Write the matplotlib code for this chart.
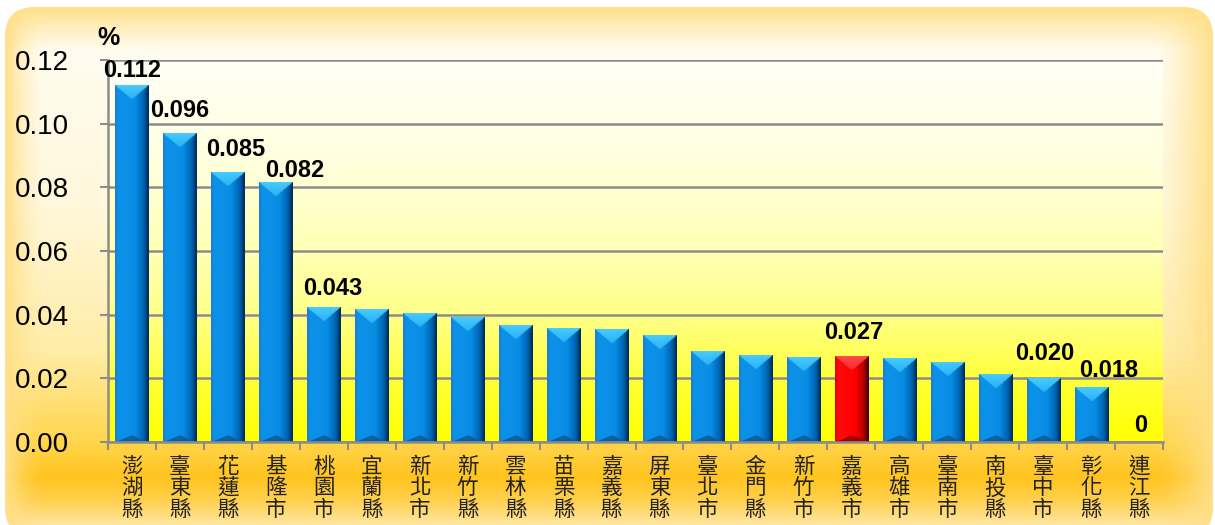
import matplotlib
matplotlib.use("Agg")
import matplotlib.pyplot as plt
import numpy as np
from matplotlib.patches import FancyBboxPatch
from matplotlib.ticker import FixedLocator

# data
counties = ["澎湖縣", "臺東縣", "花蓮縣", "基隆市", "桃園市", "宜蘭縣", "新北市", "新竹縣",
            "雲林縣", "苗栗縣", "嘉義縣", "屏東縣", "臺北市", "金門縣", "新竹市", "嘉義市",
            "高雄市", "臺南市", "南投縣", "臺中市", "彰化縣", "連江縣"]
rates = [0.112, 0.0968, 0.0848, 0.0815, 0.0423, 0.0416, 0.0404, 0.0392,
         0.0367, 0.0358, 0.0353, 0.0334, 0.0284, 0.0272, 0.0267, 0.0270,
         0.0261, 0.0251, 0.0212, 0.0201, 0.0171, 0.0]
shown = ["0.112", "0.096", "0.085", "0.082", "0.043", "", "", "",
         "", "", "", "", "", "", "", "0.027",
         "", "", "", "0.020", "0.018", "0"]
highlight = "嘉義市"
yticks = [0.00, 0.02, 0.04, 0.06, 0.08, 0.10, 0.12]
ymax = 0.12

W, H = 1215, 525
fig = plt.figure(figsize=(W / 100, H / 100), dpi=100)
fig.patch.set_facecolor("white")


def hexrgb(h):
    return np.array([int(h[i:i + 2], 16) for i in (1, 3, 5)]) / 255.0


def vgrad(pos, cols, n):
    t = np.linspace(0, 1, n)
    c = np.array([hexrgb(k) for k in cols])
    return np.stack([np.interp(t, pos, c[:, i]) for i in range(3)], axis=-1)


# chart area background: rounded frame with a soft orange glow
bg = fig.add_axes([0, 0, 1, 1], zorder=0)
bg.set_xlim(0, W)
bg.set_ylim(H, 0)
bg.axis("off")
ypos = np.array([0, 8, 28, 50, 200, 350, 440, 478, 500, 525]) / H
ycol = ["#FFE08A", "#FFE08A", "#FFEFC0", "#FFFCF0", "#FFF8DC", "#FFEDA8",
        "#FFD650", "#FFC41E", "#FFD04C", "#FFE6A0"]
col = vgrad(ypos, ycol, H)[:, None, :] * np.ones((1, W, 1))
xs = np.arange(W)
dl = np.clip(1 - (xs - 5) / 40.0, 0, 1) ** 1.6
dr = np.clip(1 - (1213 - xs) / 60.0, 0, 1) ** 1.4
glow = np.maximum(dl, dr)[None, :, None]
col = col * (1 - glow) + hexrgb("#FFDF88") * glow
img = bg.imshow(col, extent=(0, W, H, 0), aspect="auto", interpolation="bilinear")
frame = FancyBboxPatch((5, 7), 1208, 530, boxstyle="round,pad=0,rounding_size=30",
                       transform=bg.transData, facecolor="none", edgecolor="none")
bg.add_patch(frame)
img.set_clip_path(frame)

# plot area
ax = fig.add_axes([108 / W, 1 - 442 / H, (1163 - 108) / W, 382 / H], zorder=1)
n = len(counties)
x = np.arange(n)
ax.set_xlim(-0.5, n - 0.5)
ax.set_ylim(0, ymax)

pa = vgrad([0, 0.25, 0.5, 0.67, 0.84, 1.0],
           ["#FFFFF6", "#FFFFE0", "#FFFFB4", "#FFFF88", "#FFFF38", "#FFFF00"], 400)
ax.imshow(pa[:, None, :] * np.ones((1, 10, 1)), extent=(-0.5, n - 0.5, 0, ymax),
          aspect="auto", zorder=0, interpolation="bilinear")

ax.set_yticks(yticks)
ax.set_yticklabels([f"{v:.2f}" for v in yticks], fontsize=20, family="Liberation Sans")
ax.grid(axis="y", color="#8C8C8C", linewidth=1.8, zorder=1)
ax.set_axisbelow(True)
for s in ["top", "right"]:
    ax.spines[s].set_visible(False)
for s in ["left", "bottom"]:
    ax.spines[s].set_color("#8C8C8C")
    ax.spines[s].set_linewidth(1.8)
    ax.spines[s].set_zorder(5)
ax.tick_params(axis="y", length=6, width=1.5, color="#8C8C8C", pad=22)

ax.set_xticks(x)
ax.set_xticklabels(["\n".join(c) for c in counties], fontsize=15.5,
                   family="Noto Sans CJK TC", linespacing=0.97, color="#222222")
ax.tick_params(axis="x", which="major", length=0, pad=10)
ax.xaxis.set_minor_locator(FixedLocator(np.arange(n + 1) - 0.5))
ax.tick_params(axis="x", which="minor", length=6, width=1.5, color="#8C8C8C")

# bevelled bars
bw = 0.69
px_x = (1163 - 108) / n
px_y = 382 / ymax
blue = dict(prof=["#1680D4", "#0C92EA", "#0A8CE4", "#0061B0", "#002A55"],
            top="#46CCFF", bot="#0B5FA0")
red = dict(prof=["#E00000", "#FF0A0A", "#FF0000", "#B00000", "#3A0000"],
           top="#FF4A4A", bot="#A00000")
for xi, v, name in zip(x, rates, counties):
    if v <= 0:
        continue
    sty = red if name == highlight else blue
    wpx = int(round(bw * px_x)) * 2
    hpx = max(int(round(v * px_y)) * 2, 2)
    t = np.linspace(0, 1, wpx)
    prof = vgrad([0, 0.1, 0.6, 0.85, 1.0], sty["prof"], wpx)
    arr = np.repeat(prof[None, :, :], hpx, axis=0)
    rr, cc = np.mgrid[0:hpx, 0:wpx]
    tri = 1 - np.abs(2 * t[cc] - 1)
    top_d = min(28, hpx * 0.45)
    m = rr < top_d * tri
    f = (1 - 0.45 * rr / top_d)[..., None]
    arr = np.where(m[..., None], hexrgb(sty["top"]) * f + arr * (1 - f), arr)
    bot_d = min(14, hpx * 0.3)
    arr[(hpx - rr) < bot_d * tri] = hexrgb(sty["bot"])
    ax.imshow(arr, extent=(xi - bw / 2, xi + bw / 2, 0, v), aspect="auto",
              zorder=3, interpolation="bilinear")

ax.set_xlim(-0.5, n - 0.5)
ax.set_ylim(0, ymax)

# label nudges in pixels (dx, gap above bar), as placed in the reference
nudge = {"0.112": (0, 8), "0.096": (0, 17), "0.085": (8, 16), "0.082": (19, 6),
         "0.043": (9, 12), "0.027": (2, 17), "0.020": (2, 18), "0.018": (18, 11),
         "0": (2, 10)}
for xi, v, lab in zip(x, rates, shown):
    if lab:
        dx, gap = nudge.get(lab, (0, 8))
        ax.annotate(lab, (xi, v), xytext=(dx * 0.72, (gap - 5) * 0.72),
                    textcoords="offset points", ha="center", va="bottom",
                    fontsize=17, fontweight="bold", family="Liberation Sans", zorder=6)

fig.text(109 / W, 1 - 38 / H, "%", ha="center", va="center", fontsize=18,
         fontweight="bold", family="Liberation Sans")

fig.savefig("out.png", dpi=100)
